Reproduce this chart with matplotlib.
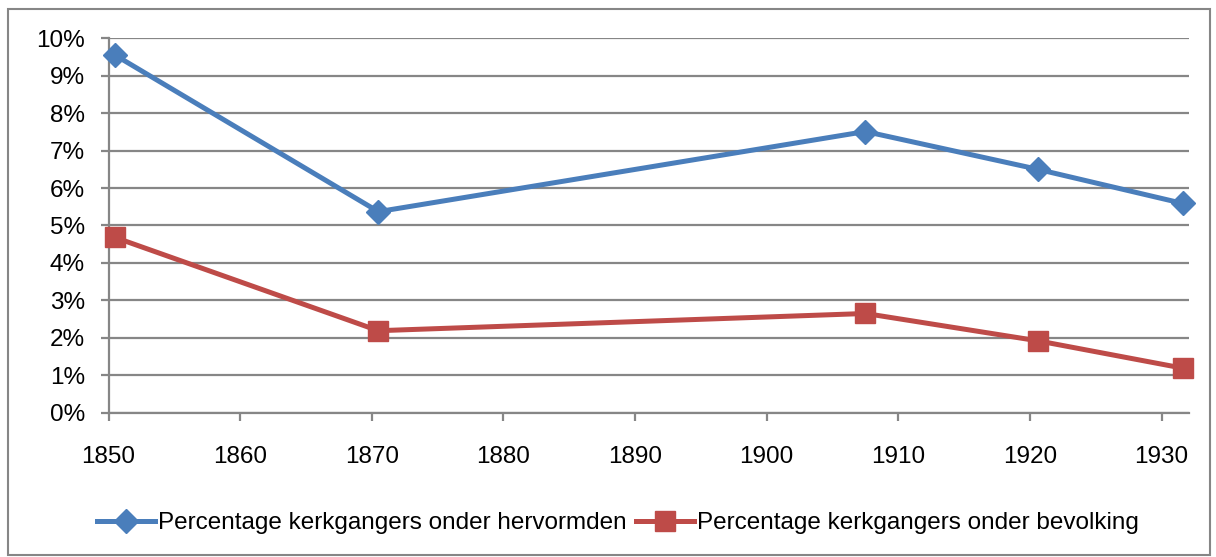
import matplotlib
matplotlib.use("Agg")
import matplotlib.pyplot as plt
from matplotlib.ticker import FuncFormatter, MultipleLocator
from matplotlib.patches import Rectangle

plt.rcParams['font.family'] = ['Liberation Sans', 'DejaVu Sans']

years = [1850.5, 1870.5, 1907.5, 1920.6, 1931.6]
hervormden = [9.55, 5.37, 7.51, 6.50, 5.59]
bevolking = [4.68, 2.19, 2.65, 1.92, 1.19]
labels = ['Percentage kerkgangers onder hervormden',
          'Percentage kerkgangers onder bevolking']
xticks = [1850, 1860, 1870, 1880, 1890, 1900, 1910, 1920, 1930]

W, H = 1216, 557
fig = plt.figure(figsize=(W / 100, H / 100), dpi=100)
fig.patches.append(Rectangle((8 / W, 2 / H), (1210 - 8) / W, (H - 9 - 2) / H,
                             transform=fig.transFigure, fill=False,
                             edgecolor='#868686', linewidth=1.5))

left, right, top, bottom = 108.5, 1189.3, 38.3, 412.7
ax = fig.add_axes([left / W, 1 - bottom / H, (right - left) / W, (bottom - top) / H])

grid_c = '#868686'
fs = 17.5
ax.set_xlim(1850, 1932.1)
ax.set_ylim(0, 10)
ax.yaxis.set_major_locator(MultipleLocator(1))
ax.yaxis.set_major_formatter(FuncFormatter(lambda v, p: f"{int(round(v))}%"))
ax.set_xticks(xticks)
ax.grid(axis='y', color=grid_c, linewidth=1.6)
ax.set_axisbelow(True)
for s in ['top', 'right']:
    ax.spines[s].set_visible(False)
for s in ['left', 'bottom']:
    ax.spines[s].set_color(grid_c)
    ax.spines[s].set_linewidth(1.6)
ax.tick_params(axis='both', colors=grid_c, labelcolor='black', labelsize=fs,
               length=6, width=1.6)
ax.tick_params(axis='x', pad=18)
ax.tick_params(axis='y', pad=11)

blue = '#4A7EBB'
red = '#BE4B48'
ax.plot(years, hervormden, color=blue, linewidth=3.6, marker='D', markersize=12,
        label=labels[0], clip_on=False, zorder=3)
ax.plot(years, bevolking, color=red, linewidth=3.6, marker='s', markersize=14,
        label=labels[1], clip_on=False, zorder=3)

leg = fig.legend(loc='center', bbox_to_anchor=(0.508, 1 - 523 / H), ncol=2,
                 frameon=False, fontsize=fs, handlelength=2.4, handletextpad=0.1,
                 columnspacing=0.4)

fig.savefig('out.png', dpi=100)
